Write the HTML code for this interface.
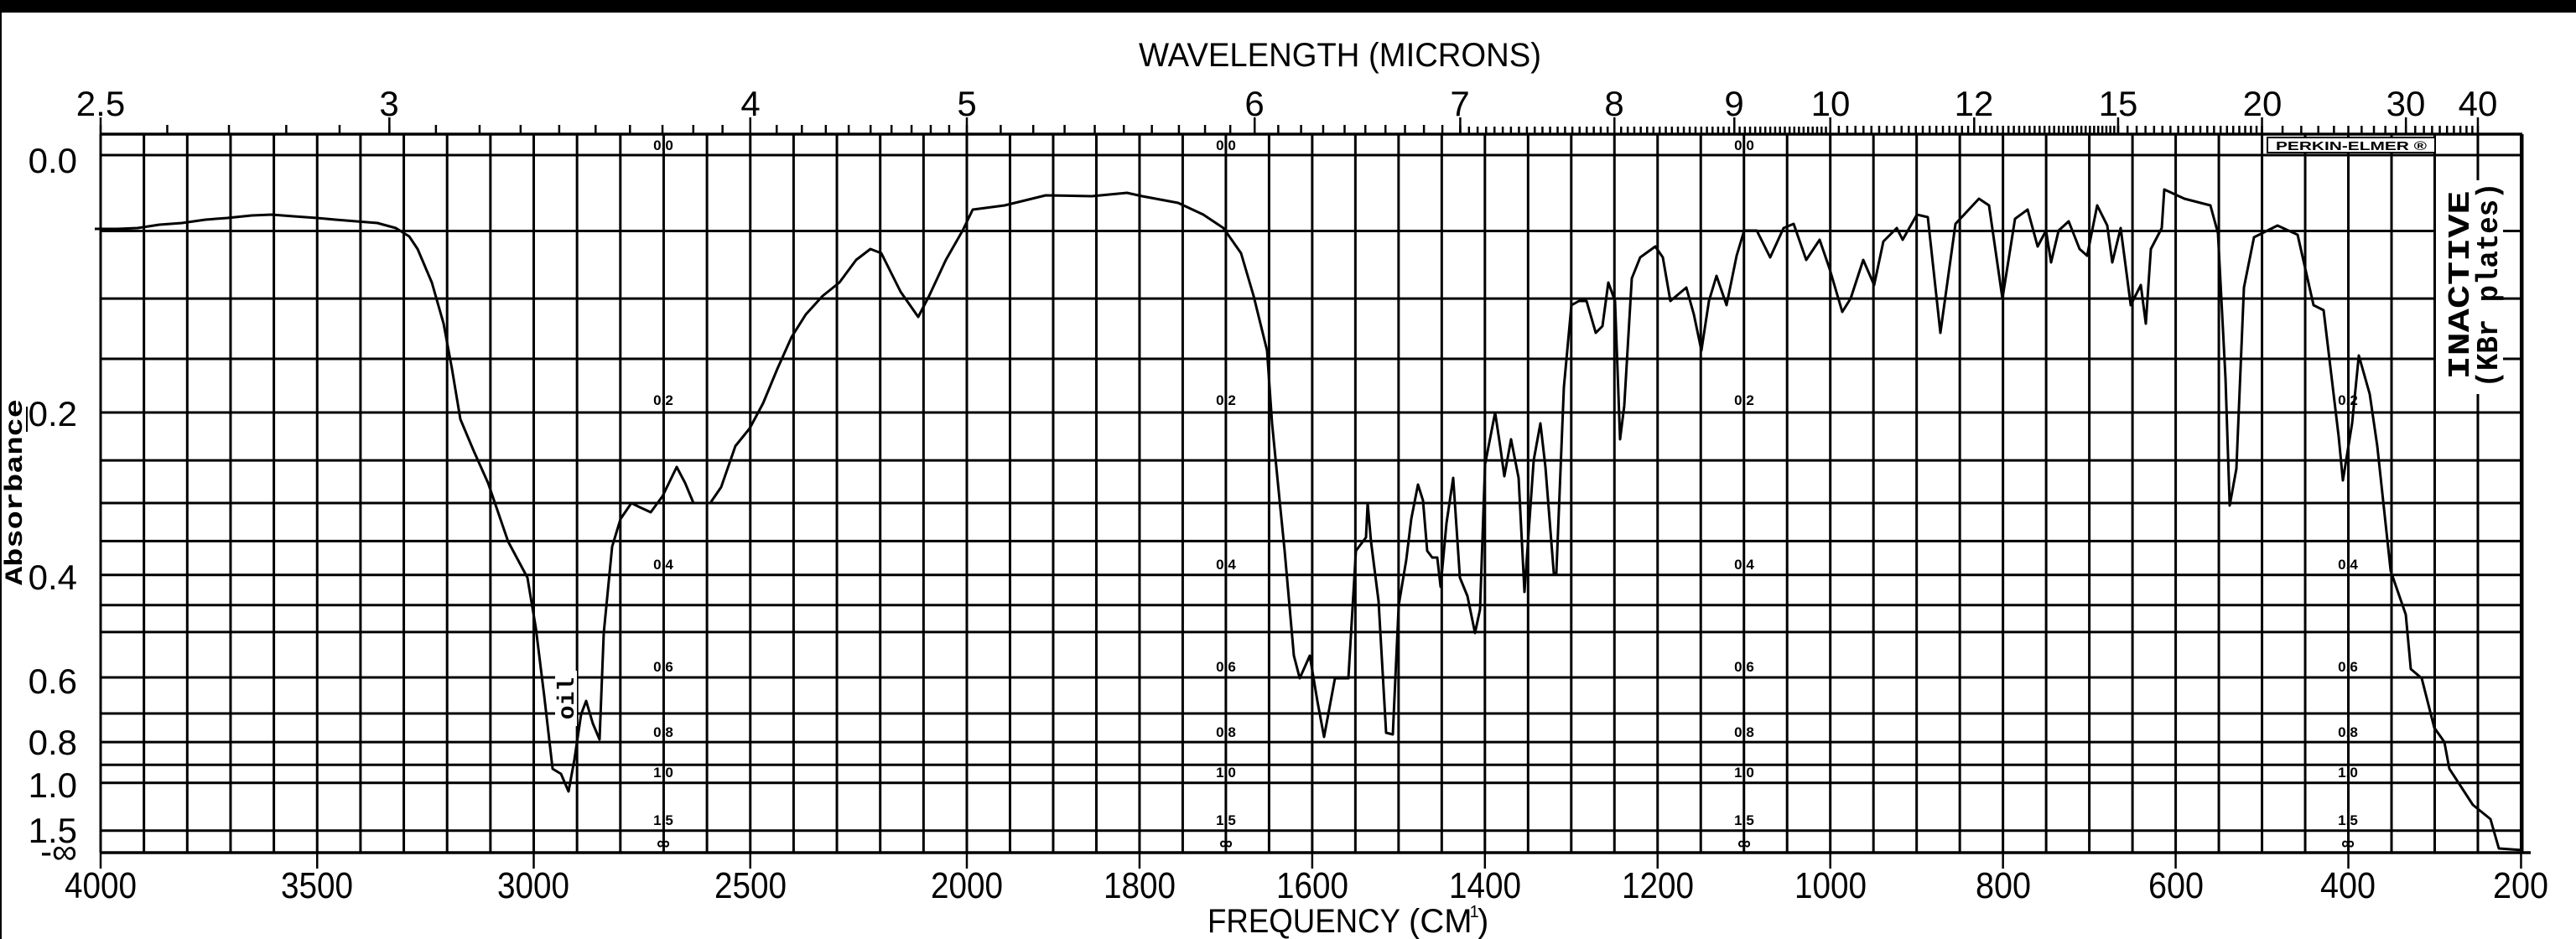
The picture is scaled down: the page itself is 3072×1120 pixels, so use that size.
<!DOCTYPE html>
<html><head><meta charset="utf-8"><style>
html,body{margin:0;padding:0;background:#fff;}
svg{display:block;}
text{fill:#000;}
.n{font-family:"Liberation Sans Narrow","Liberation Sans",sans-serif;}
.m{font-family:"Liberation Mono","DejaVu Sans Mono",monospace;font-weight:bold;}
.s{font-family:"Liberation Sans Narrow","Liberation Sans",sans-serif;font-size:17px;font-weight:bold;text-anchor:middle;}
</style></head><body>
<svg id="c" width="3072" height="1120" viewBox="0 0 3072 1120" xmlns="http://www.w3.org/2000/svg">
<rect x="0" y="0" width="3072" height="1120" fill="#fff"/>
<rect x="0" y="0" width="3072" height="15" fill="#000"/>
<line x1="1" y1="15" x2="1" y2="1120" stroke="#000" stroke-width="2"/>
<g id="grid" stroke="#000" stroke-width="3" fill="none"></g>
<g id="ticks" stroke="#000" stroke-width="2.5" fill="none"></g>

<!-- top title -->
<text class="n" x="1598" y="79" font-size="40" text-anchor="middle" textLength="480" lengthAdjust="spacingAndGlyphs">WAVELENGTH (MICRONS)</text>
<!-- top micron labels -->
<g class="n" font-size="42" text-anchor="middle">
<text x="120" y="138">2.5</text><text x="464" y="138">3</text><text x="895" y="138">4</text>
<text x="1153" y="138">5</text><text x="1496" y="138">6</text><text x="1741" y="138">7</text>
<text x="1925" y="138">8</text><text x="2068" y="138">9</text><text x="2183" y="138">10</text>
<text x="2354" y="138">12</text><text x="2526" y="138">15</text><text x="2698" y="138">20</text>
<text x="2869" y="138">30</text><text x="2955" y="138">40</text>
</g>
<!-- bottom labels -->
<g class="n" font-size="44" text-anchor="middle">
<text x="120" y="1071" textLength="86" lengthAdjust="spacingAndGlyphs">4000</text>
<text x="378" y="1071" textLength="86" lengthAdjust="spacingAndGlyphs">3500</text>
<text x="636" y="1071" textLength="86" lengthAdjust="spacingAndGlyphs">3000</text>
<text x="895" y="1071" textLength="86" lengthAdjust="spacingAndGlyphs">2500</text>
<text x="1153" y="1071" textLength="86" lengthAdjust="spacingAndGlyphs">2000</text>
<text x="1359" y="1071" textLength="86" lengthAdjust="spacingAndGlyphs">1800</text>
<text x="1565" y="1071" textLength="86" lengthAdjust="spacingAndGlyphs">1600</text>
<text x="1771" y="1071" textLength="86" lengthAdjust="spacingAndGlyphs">1400</text>
<text x="1977" y="1071" textLength="86" lengthAdjust="spacingAndGlyphs">1200</text>
<text x="2183" y="1071" textLength="86" lengthAdjust="spacingAndGlyphs">1000</text>
<text x="2389" y="1071" textLength="66" lengthAdjust="spacingAndGlyphs">800</text>
<text x="2595" y="1071" textLength="66" lengthAdjust="spacingAndGlyphs">600</text>
<text x="2800" y="1071" textLength="66" lengthAdjust="spacingAndGlyphs">400</text>
<text x="3006" y="1071" textLength="66" lengthAdjust="spacingAndGlyphs">200</text>
</g>
<text class="n" x="1440" y="1112" font-size="40" textLength="230" lengthAdjust="spacingAndGlyphs">FREQUENCY</text>
<text class="n" x="1680" y="1112" font-size="40">(CM</text>
<text class="n" x="1746" y="1094" font-size="20">-1</text>
<text class="n" x="1762" y="1112" font-size="40">)</text>

<!-- left labels -->
<g class="n" font-size="42" text-anchor="end">
<text x="92" y="206">0.0</text>
<text x="92" y="508">0.2</text>
<text x="92" y="703">0.4</text>
<text x="92" y="827">0.6</text>
<text x="92" y="900">0.8</text>
<text x="92" y="951">1.0</text>
<text x="92" y="1005">1.5</text>
<text x="92" y="1030">-∞</text>
</g>
<line x1="32" y1="485" x2="32" y2="515" stroke="#000" stroke-width="2"/>
<text class="m" font-size="30" transform="translate(26,587) rotate(-90)" text-anchor="middle" textLength="222" lengthAdjust="spacingAndGlyphs">Absorbance</text>

<!-- interior small labels -->
<g class="s">
<text x="791" y="179">0.0</text><text x="1462" y="179">0.0</text><text x="2080" y="179">0.0</text>
<text x="791" y="483">0.2</text><text x="1462" y="483">0.2</text><text x="2080" y="483">0.2</text><text x="2800" y="483">0.2</text>
<text x="791" y="679">0.4</text><text x="1462" y="679">0.4</text><text x="2080" y="679">0.4</text><text x="2800" y="679">0.4</text>
<text x="791" y="801">0.6</text><text x="1462" y="801">0.6</text><text x="2080" y="801">0.6</text><text x="2800" y="801">0.6</text>
<text x="791" y="879">0.8</text><text x="1462" y="879">0.8</text><text x="2080" y="879">0.8</text><text x="2800" y="879">0.8</text>
<text x="791" y="927">1.0</text><text x="1462" y="927">1.0</text><text x="2080" y="927">1.0</text><text x="2800" y="927">1.0</text>
<text x="791" y="984">1.5</text><text x="1462" y="984">1.5</text><text x="2080" y="984">1.5</text><text x="2800" y="984">1.5</text>
<text x="791" y="1013" font-size="22">∞</text><text x="1462" y="1013" font-size="22">∞</text><text x="2080" y="1013" font-size="22">∞</text><text x="2800" y="1013" font-size="22">∞</text>
</g>

<!-- Perkin-Elmer box -->
<rect x="2704" y="164" width="200" height="18" fill="#fff" stroke="#000" stroke-width="2"/>
<text class="n" x="2804" y="179" font-size="15" font-weight="bold" text-anchor="middle" textLength="180" lengthAdjust="spacingAndGlyphs">PERKIN-ELMER ®</text>

<!-- INACTIVE -->
<rect x="2905" y="215" width="80" height="255" fill="#fff"/>
<text class="m" font-size="36" transform="translate(2944,340) rotate(-90)" text-anchor="middle" textLength="225" lengthAdjust="spacingAndGlyphs">INACTIVE</text>
<text class="m" font-size="36" transform="translate(2978,340) rotate(-90)" text-anchor="middle" textLength="245" lengthAdjust="spacingAndGlyphs">(KBr plates)</text>

<!-- oil -->
<rect x="662" y="800" width="26" height="66" fill="#fff"/>
<text class="m" font-size="28" transform="translate(684,833) rotate(-90)" text-anchor="middle">oil</text>

<!-- spectrum -->
<polyline fill="none" stroke="#000" stroke-width="3" stroke-linejoin="round" points="
113,273 140,273 164,272 190,268 217,266 245,262 271,260 300,257 324,256 350,258 378,260 400,262 425,264 450,266 472,272 488,282 498,297 515,337 529,386 539,440 549,500 565,538 582,576 606,646 629,689 639,749 649,830 659,917 669,923 678,944 685,906 693,852 699,836 707,863 715,882 720,755 730,652 740,619 753,600 763,605 776,611 790,592 807,557 817,576 827,600 847,600 860,581 877,532 894,511 910,481 927,440 944,402 961,375 981,353 1001,337 1021,310 1038,297 1051,302 1074,348 1095,378 1108,353 1128,310 1148,275 1160,250
1198,245 1247,233 1302,234 1344,230 1362,234 1405,242 1435,256 1459,272 1480,302 1495,353 1511,418 1517,505 1526,597 1532,657 1543,782 1550,809 1562,782 1571,836 1579,879 1592,809 1608,809 1617,657 1629,641 1631,600 1635,646 1644,717 1653,874 1661,876 1668,722 1677,668 1683,619 1691,578 1697,597 1702,657 1708,665 1714,665 1718,700 1725,624 1733,570 1741,689 1750,711 1759,755 1765,727 1771,554 1783,492 1789,532 1794,568 1802,524 1811,570 1818,706 1829,549 1837,505 1843,557 1853,684 1856,684 1865,462 1874,364 1883,359 1892,359 1903,397 1911,389 1918,337 1926,359 1932,524 1937,484 1946,332 1956,307 1974,294 1983,307 1992,359 2011,343 2020,375 2029,418 2038,359 2047,329 2059,364 2071,305 2080,275 2095,275
2111,307 2127,272 2139,267 2154,310 2170,286 2182,321 2197,372 2207,356 2222,310 2235,340 2246,288 2262,272 2269,286 2286,256 2299,259 2314,397 2332,267 2360,237 2372,245 2388,356 2403,261 2418,250 2430,294 2440,275 2446,313 2455,275 2467,264 2480,297 2489,305 2501,245 2513,269 2519,313 2529,272 2541,364 2553,340 2559,386 2565,297 2578,272 2581,226 2605,237 2636,245 2645,278 2654,451 2659,603 2667,559 2676,343 2688,283 2716,269 2740,280 2759,364 2771,370 2789,521 2794,573 2805,505 2813,424 2826,470 2835,532 2851,681 2869,733 2875,798 2888,809 2903,868 2915,885 2921,917 2949,960 2970,977 2980,1012 3008,1014"/>
</svg>
<script>
(function(){
var NS="http://www.w3.org/2000/svg";
function fx(f){return f>=2000?120+(4000-f)*0.5165:1153+(2000-f)*1.0297;}
function ya(a){return 185+(1-Math.pow(10,-a))*832;}
function L(g,x1,y1,x2,y2,w){var l=document.createElementNS(NS,"line");l.setAttribute("x1",x1);l.setAttribute("y1",y1);l.setAttribute("x2",x2);l.setAttribute("y2",y2);if(w)l.setAttribute("stroke-width",w);g.appendChild(l);}
var g=document.getElementById("grid"),t=document.getElementById("ticks");
var XL=120,XR=3008,YT=160,YB=1017;
for(var f=4000;f>=2000;f-=100)L(g,fx(f),YT,fx(f),YB);
for(var f=1950;f>=200;f-=50)L(g,fx(f),YT,fx(f),YB);
L(g,XR,YT,XR,YB);
var A=[0,0.05,0.1,0.15,0.2,0.25,0.3,0.35,0.4,0.45,0.5,0.6,0.7,0.8,0.9,1.0,1.5];
A.forEach(function(a){L(g,XL,ya(a),XR,ya(a));});
L(g,XL,YT,XR,YT,3.5);L(g,XL,YB,XR+10,YB,3.5);
[4000,3500,3000,2500,2000,1800,1600,1400,1200,1000,800,600,400,200].forEach(function(f){L(t,fx(f),YB,fx(f),1036);});
function mt(mu,len){var f=10000/mu;if(f<200)return;var x=fx(f);L(t,x,YT,x,YT-len);}
var m;
for(m=2.5;m<7.001;m+=0.1)mt(m,11);
for(m=7;m<10.001;m+=0.05)mt(m,9);
for(m=10;m<15.001;m+=0.1)mt(m,10);
for(m=15;m<20.001;m+=0.25)mt(m,10);
for(m=20;m<41;m+=1)mt(m,10);
[2.5,3,4,5,6,7,8,9,10,12,15,20,30,40].forEach(function(u){mt(u,20);});
[2700,1700,1100,400].forEach(function(f){L(t,fx(f),YT,fx(f),YB,2);});
})();
</script>
</body></html>
